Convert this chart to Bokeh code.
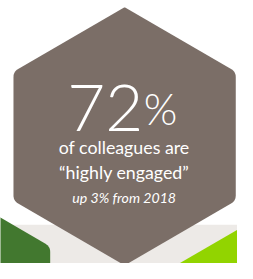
import numpy as np
from bokeh.plotting import figure
from bokeh.models import Range1d
from bokeh.core.properties import value
from bokeh.embed import file_html
from bokeh.resources import INLINE

# ---- data ----
headline_value = [72]
headline_unit = ["%"]
desc_lines = ["of colleagues are", "\u201chighly engaged\u201d"]
change_pct = [3]
base_year = [2018]

# ---- layout (reference pixel space) ----
W_REF, H_REF = 253, 279
FIG_W, FIG_H = 237, 263
S = FIG_W / W_REF

MAIN_HEX = (132.5, 144.0, 137.0)
GREEN_HEX = (-65.6, 329.5, 137.0)
LIME_HEX = (300.0, 352.9, 137.0)
BAND_TOP = 238

C_HEX = "#7B6E67"
C_GREEN = "#42782F"
C_LIME = "#92D400"
C_BAND = "#EDEAE7"


def rounded_hex(cx, cy, R, radii, steps=8):
    ang = np.radians(-90 + 60 * np.arange(6))
    vx = cx + R * np.cos(ang)
    vy = cy + R * np.sin(ang)
    xs, ys = [], []
    for k in range(6):
        V = np.array([vx[k], vy[k]])
        P = np.array([vx[k - 1], vy[k - 1]])
        N = np.array([vx[(k + 1) % 6], vy[(k + 1) % 6]])
        r = radii[k]
        d = r * np.tan(np.radians(30))
        u1 = (P - V) / np.linalg.norm(P - V)
        u2 = (N - V) / np.linalg.norm(N - V)
        T1 = V + u1 * d
        T2 = V + u2 * d
        for t in np.linspace(0, 1, steps):
            B = (1 - t) ** 2 * T1 + 2 * t * (1 - t) * V + t ** 2 * T2
            xs.append(B[0])
            ys.append(B[1])
    return xs, ys


p = figure(width=FIG_W, height=FIG_H, output_backend="svg", toolbar_location=None,
           x_range=Range1d(0, W_REF), y_range=Range1d(H_REF, 0),
           min_border=0, outline_line_color=None, background_fill_color="white")
p.axis.visible = False
p.grid.visible = False

p.quad(left=[0], right=[W_REF], top=[BAND_TOP], bottom=[H_REF], fill_color=C_BAND, line_color=None)

corner = [2, 10, 10, 2, 10, 10]
for (cx, cy, R), col in [(GREEN_HEX, C_GREEN), (LIME_HEX, C_LIME), (MAIN_HEX, C_HEX)]:
    xs, ys = rounded_hex(cx, cy, R, corner)
    p.patch(xs, ys, fill_color=col, line_color=None)

# headline number and unit
p.text(x=[152.5], y=[114], text=[str(v) for v in headline_value], text_align="right",
       text_baseline="alphabetic", text_color="white", text_font=value("Lato Light"),
       text_font_size=f"{70 * S:.1f}px")
p.text(x=[153], y=[114], text=headline_unit, text_align="left",
       text_baseline="alphabetic", text_color="white", text_font=value("Lato Light"),
       text_font_size=f"{46 * S:.1f}px")

p.text(x=[132, 132], y=[155, 182], text=desc_lines, text_align="center",
       text_baseline="alphabetic", text_color="white", text_font=value("Lato"),
       text_font_size=f"{19 * S:.1f}px")

sub = [f"up {c}% from {y}" for c, y in zip(change_pct, base_year)]
p.text(x=[132], y=[209], text=sub, text_align="center",
       text_baseline="alphabetic", text_color="white", text_font=value("Lato"),
       text_font_style="italic", text_font_size=f"{15 * S:.1f}px")

open("out.html", "w").write(file_html(p, INLINE))
